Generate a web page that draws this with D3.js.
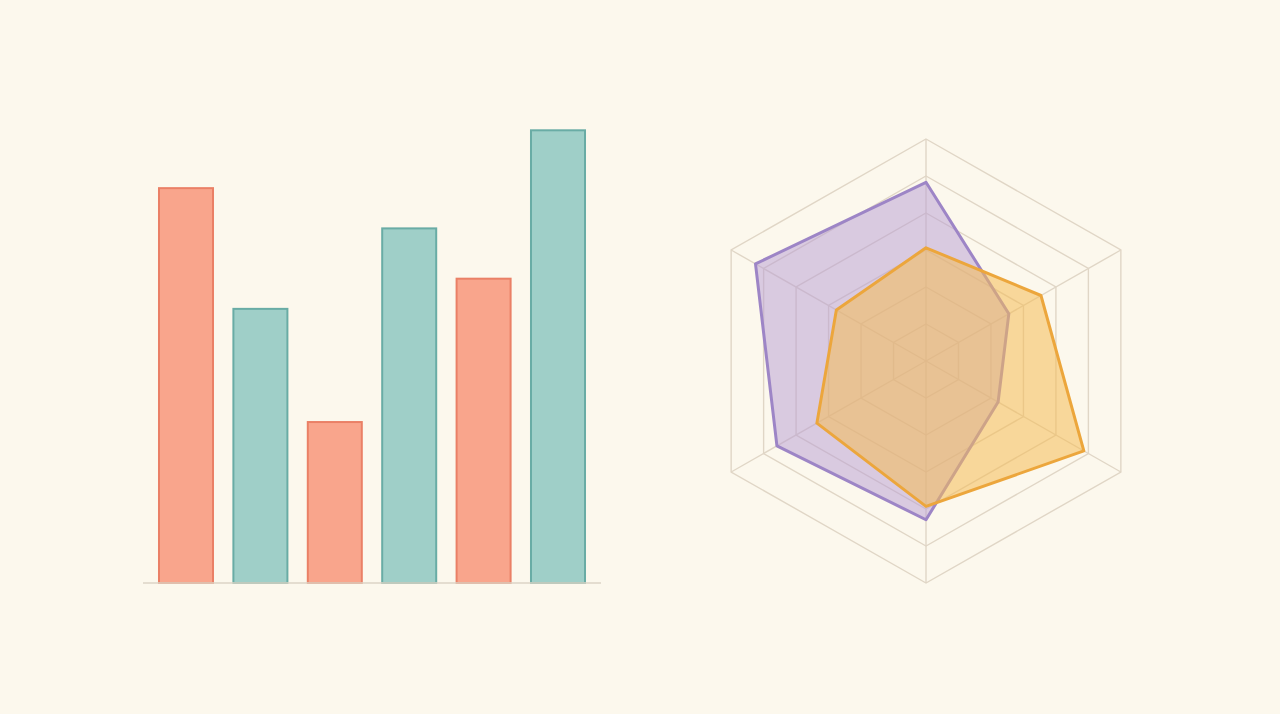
<!DOCTYPE html>
<html>
<head>
<meta charset="utf-8">
<script src="https://cdn.jsdelivr.net/npm/d3@7"></script>
<style>
  html, body { margin: 0; padding: 0; background: #fcf8ed; }
  svg { display: block; }
</style>
</head>
<body>
<svg id="chart" width="1280" height="714"></svg>
<script>
// ---- Data ----
const barCategories = ["A", "B", "C", "D", "E", "F"];
const barValues = [78.5, 54.5, 32, 70.5, 60.5, 90];
const barGroups = ["salmon", "teal", "salmon", "teal", "salmon", "teal"];

const radarAxes = ["1", "2", "3", "4", "5", "6"];
const radarPurple = [80.5, 42.5, 37, 71.5, 76.5, 87.5];
const radarOrange = [51, 59, 81, 65.5, 56, 46];
const radarLevels = [1, 2, 3, 4, 5, 6];

// ---- Setup ----
const svg = d3.select("#chart");
svg.append("rect").attr("width", 1280).attr("height", 714).attr("fill", "#fcf8ed");

// ---- Bar chart ----
const x = d3.scaleBand().domain(barCategories).range([143, 601]).paddingInner(0.274).paddingOuter(0.215);
const y = d3.scaleLinear().domain([0, 100]).range([583, 80]);
const fillColor = d3.scaleOrdinal().domain(["salmon", "teal"]).range(["#f9a58c", "#9fcfc8"]);
const strokeColor = d3.scaleOrdinal().domain(["salmon", "teal"]).range(["#ea8066", "#69aca5"]);

const bars = svg.append("g");
bars.selectAll("rect").data(barValues).join("rect")
  .attr("x", (d, i) => x(barCategories[i]))
  .attr("y", d => y(d))
  .attr("width", x.bandwidth())
  .attr("height", d => y(0) - y(d))
  .attr("fill", (d, i) => fillColor(barGroups[i]))
  .attr("stroke", (d, i) => strokeColor(barGroups[i]))
  .attr("stroke-width", 2);

svg.append("line")
  .attr("x1", 143).attr("x2", 601)
  .attr("y1", y(0)).attr("y2", y(0))
  .attr("stroke", "#ddd5c6").attr("stroke-width", 1.5);

// ---- Radar chart ----
const cx = 926, cy = 361, R = 222, RX = 225;
const rScale = d3.scaleLinear().domain([0, 100]).range([0, 1]);
const angle = d3.scalePoint().domain(radarAxes.concat(["end"])).range([0, 2 * Math.PI]);
const radar = svg.append("g").attr("transform", `translate(${cx},${cy})`);

const pt = (ax, f) => {
  const a = angle(ax);
  return [f * RX * Math.sin(a), -f * R * Math.cos(a)];
};

const gridColor = "#e0d6c6";
radarLevels.forEach(l => {
  const f = l / radarLevels.length;
  radar.append("polygon")
    .attr("points", radarAxes.map(ax => pt(ax, f).join(",")).join(" "))
    .attr("fill", "none").attr("stroke", gridColor).attr("stroke-width", 1.4);
});
radarAxes.forEach(ax => {
  const p = pt(ax, 1);
  radar.append("line").attr("x1", 0).attr("y1", 0).attr("x2", p[0]).attr("y2", p[1])
    .attr("stroke", gridColor).attr("stroke-width", 1.4);
});

const line = d3.line().curve(d3.curveLinearClosed);
const drawSeries = (vals, fill, fillOp, stroke) => {
  radar.append("path")
    .attr("d", line(vals.map((v, i) => pt(radarAxes[i], rScale(v)))))
    .attr("fill", fill).attr("fill-opacity", fillOp)
    .attr("stroke", stroke).attr("stroke-width", 3).attr("stroke-linejoin", "round");
};
drawSeries(radarPurple, "#b59bd3", 0.5, "#9d85c6");
drawSeries(radarOrange, "#f4bb55", 0.55, "#eca63c");
</script>
</body>
</html>
